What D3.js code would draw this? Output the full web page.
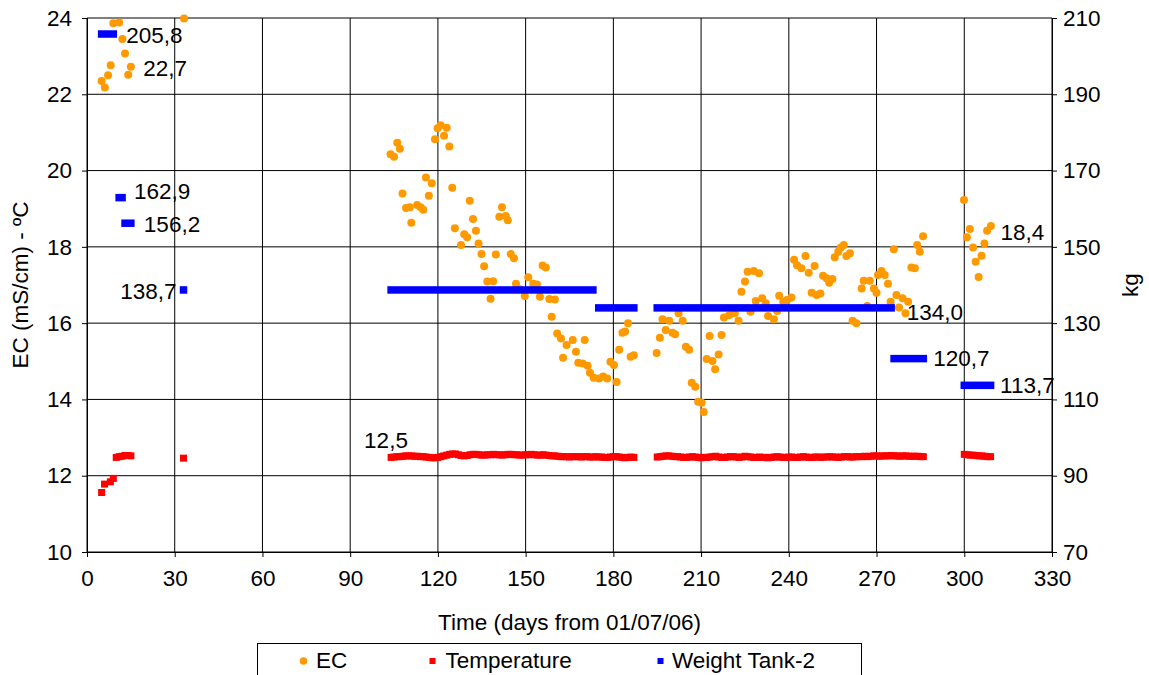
<!DOCTYPE html>
<html>
<head>
<meta charset="utf-8">
<script src="https://cdn.jsdelivr.net/npm/d3@7"></script>
<style>
  html, body { margin: 0; padding: 0; background: #fff; }
  svg { display: block; }
  text { font-family: "Liberation Sans", Arial, sans-serif; fill: #000; }
</style>
</head>
<body>
<svg id="chart" width="1149" height="675"></svg>
<script>
// ---------------- DATA ----------------
const xTicks = [0, 30, 60, 90, 120, 150, 180, 210, 240, 270, 300, 330];
const leftTicks = [10, 12, 14, 16, 18, 20, 22, 24];
const rightTicks = [70, 90, 110, 130, 150, 170, 190, 210];

const xTitle = "Time (days from 01/07/06)";
const leftTitle = "EC (mS/cm) - ºC";
const rightTitle = "kg";
const seriesNames = ["EC", "Temperature", "Weight Tank-2"];

// EC (mS/cm), days from 01/07/06
const ecDays = [5.0,6.1,7.2,8.1,9.0,11.0,12.1,13.0,14.1,15.0,33.2,
103.8,105.0,106.1,107.0,107.9,109.1,110.4,110.9,112.9,114.1,115.0,115.9,116.9,117.9,119.0,119.9,120.9,122.1,123.0,123.9,124.9,125.8,127.9,129.0,130.0,130.9,132.0,133.0,133.9,134.9,135.8,136.9,138.0,138.9,139.8,141.0,141.9,143.2,143.9,144.9,146.0,146.7,148.0,149.7,150.9,152.6,153.9,154.9,155.8,156.9,158.1,158.9,160.0,160.8,162.1,162.8,164.0,166.1,167.2,168.0,169.5,170.2,171.2,172.0,173.3,175.1,176.5,177.9,179.0,180.2,181.1,182.0,183.1,184.0,185.0,185.9,187.0,
194.8,195.9,196.8,197.9,199.1,200.2,201.1,202.3,203.7,204.8,205.9,206.8,208.0,209.0,210.2,210.9,211.9,212.9,213.9,214.8,216.0,217.0,217.8,219.6,221.5,222.8,223.8,225.0,225.9,226.9,228.0,228.7,229.8,230.9,232.1,232.9,234.9,236.0,236.7,238.1,239.4,240.9,241.8,242.8,244.3,245.7,246.8,247.8,248.8,249.5,250.8,251.7,252.9,253.8,254.9,255.7,256.9,257.8,258.8,259.7,260.9,261.8,263.1,264.9,265.6,266.8,267.7,269.1,270.0,270.5,271.7,272.8,273.9,274.8,275.9,276.8,277.7,278.9,279.9,280.8,281.9,283.1,283.9,284.8,285.9,
299.9,300.9,301.9,303.0,303.9,304.9,305.9,306.9,307.8,309.1];
const ecValues = [22.35,22.18,22.50,22.76,23.86,23.88,23.45,23.07,22.51,22.72,23.99,
20.43,20.36,20.73,20.57,19.40,19.02,19.04,18.63,19.10,19.04,18.97,19.82,19.34,19.67,20.82,21.11,21.19,20.91,21.12,20.63,19.55,18.49,18.05,18.33,18.25,19.21,18.73,18.42,18.09,17.81,17.49,17.09,16.64,17.10,17.80,18.79,19.04,18.81,18.70,17.81,17.70,17.03,16.89,16.71,17.20,17.03,17.01,16.69,17.51,17.46,16.63,16.17,16.62,15.73,15.60,15.09,15.43,15.56,15.25,14.96,14.94,15.56,14.88,14.70,14.57,14.55,14.60,14.55,14.99,14.90,14.46,15.30,15.75,15.78,16.00,15.12,15.16,
15.22,15.62,16.10,15.82,16.06,15.75,15.71,16.26,16.06,15.38,15.30,14.44,14.33,13.94,13.91,13.67,15.06,15.66,15.01,14.79,15.18,15.69,16.15,16.21,16.26,16.06,16.82,17.09,17.35,16.30,17.37,16.58,17.31,16.65,16.52,16.19,16.10,16.32,16.72,16.56,16.61,16.67,17.66,17.52,17.44,17.76,17.32,16.80,17.50,16.74,16.78,17.24,17.18,17.06,17.16,17.73,17.87,17.98,18.05,17.76,17.83,16.06,16.00,16.91,17.11,16.45,17.11,16.91,16.80,17.26,17.37,17.26,17.03,16.56,17.94,16.74,16.41,16.65,16.26,16.56,17.46,17.44,18.05,17.87,18.28,
19.23,18.25,18.47,17.98,17.61,17.21,17.77,18.09,18.42,18.55];

// Temperature (ºC): isolated early readings
const tempEarlyDays = [5, 6, 8, 9, 10, 11, 12, 13, 14, 15, 33];
const tempEarlyValues = [11.56, 11.78, 11.84, 11.93, 12.48, 12.50, 12.51, 12.53, 12.53, 12.52, 12.46];
// Temperature: daily readings in three runs (first day of each run + values)
const tempRunStarts = [104, 195, 300];
const tempRun1 = [12.48,12.49,12.50,12.50,12.51,12.52,12.52,
12.52,12.51,12.51,12.50,12.50,12.49,12.48,12.47,12.47,12.48,
12.50,12.52,12.54,12.56,12.57,12.57,12.55,12.53,12.52,12.53,
12.55,12.56,12.56,12.55,12.54,12.54,12.55,12.55,12.56,12.55,
12.55,12.54,12.55,12.56,12.56,12.55,12.55,12.54,12.54,12.55,
12.55,12.56,12.55,12.54,12.54,12.55,12.54,12.53,12.52,12.52,
12.51,12.50,12.50,12.50,12.49,12.50,12.50,12.50,12.49,12.50,
12.50,12.49,12.49,12.50,12.49,12.49,12.48,12.48,12.49,12.50,
12.50,12.49,12.48,12.47,12.48,12.49,12.48];
const tempRun2 = [12.49,12.50,12.51,12.52,12.52,12.51,12.50,12.50,12.49,12.48,
12.48,12.49,12.50,12.49,12.48,12.47,12.48,12.48,12.49,12.50,
12.51,12.49,12.48,12.48,12.49,12.50,12.50,12.49,12.48,12.49,
12.51,12.50,12.49,12.48,12.48,12.49,12.48,12.48,12.47,12.48,
12.49,12.50,12.49,12.48,12.48,12.49,12.49,12.48,12.48,12.49,
12.50,12.49,12.48,12.48,12.49,12.49,12.48,12.49,12.49,12.50,
12.49,12.49,12.48,12.49,12.50,12.50,12.49,12.49,12.50,12.50,
12.50,12.51,12.50,12.51,12.52,12.52,12.51,12.52,12.52,12.52,
12.53,12.52,12.52,12.51,12.52,12.52,12.51,12.51,12.51,12.51,
12.50,12.50];
const tempRun3 = [12.56,12.55,12.54,12.54,12.53,12.52,12.52,12.51,12.50,12.50];

// Weight Tank-2 (kg): daily readings held constant over these day ranges
const weightStartDays = [5, 11, 13, 33, 104, 175, 195, 276, 300];
const weightEndDays   = [9, 12, 15, 33, 173, 187, 275, 286, 309];
const weightKg        = [205.8, 162.9, 156.2, 138.7, 138.7, 134.0, 134.0, 120.7, 113.7];

// Data labels (text, series, day, value)
const labelTexts  = ["205,8", "162,9", "156,2", "138,7", "134,0", "120,7", "113,7", "22,7", "18,4", "12,5"];
const labelSeries = ["W", "W", "W", "W", "W", "W", "W", "EC", "EC", "T"];
const labelDays   = [9, 12, 15, 33, 275, 286, 309, 15, 307.8, 104];
const labelValues = [205.8, 162.9, 156.2, 138.7, 134.0, 120.7, 113.7, 22.72, 18.42, 12.48];

// ---------------- DRAW ----------------
const svg = d3.select("#chart");
const W = 1149, H = 675;
const plot = { left: 87, right: 1052, top: 18, bottom: 552 };
const FONT = 22.5;

svg.append("rect").attr("width", W).attr("height", H).attr("fill", "#fff");

const x = d3.scaleLinear().domain([0, 330]).range([plot.left, plot.right]);
const yL = d3.scaleLinear().domain([10, 24]).range([plot.bottom, plot.top]);
const yR = d3.scaleLinear().domain([70, 210]).range([plot.bottom, plot.top]);

// gridlines
const grid = svg.append("g");
grid.selectAll("line.h").data(leftTicks).join("line")
  .attr("x1", plot.left).attr("x2", plot.right)
  .attr("y1", d => yL(d)).attr("y2", d => yL(d))
  .attr("stroke", "#000").attr("stroke-width", 1);
grid.selectAll("line.v").data(xTicks).join("line")
  .attr("y1", plot.top).attr("y2", plot.bottom)
  .attr("x1", d => x(d)).attr("x2", d => x(d))
  .attr("stroke", "#000").attr("stroke-width", 1);

// axes
function styleAxis(g) {
  g.select(".domain").attr("stroke", "#000");
  g.selectAll(".tick line").attr("stroke", "#000");
  g.selectAll(".tick text").attr("font-size", FONT)
    .attr("font-family", '"Liberation Sans", Arial, sans-serif').attr("fill", "#000");
}
svg.append("g").attr("transform", `translate(0,${plot.bottom})`)
  .call(d3.axisBottom(x).tickValues(xTicks).tickSizeOuter(0).tickSize(5).tickPadding(13).tickFormat(d3.format("d")))
  .call(styleAxis);
svg.append("g").attr("transform", `translate(${plot.left},0)`)
  .call(d3.axisLeft(yL).tickValues(leftTicks).tickSizeOuter(0).tickSize(5).tickPadding(10).tickFormat(d3.format("d")))
  .call(styleAxis);
svg.append("g").attr("transform", `translate(${plot.right},0)`)
  .call(d3.axisRight(yR).tickValues(rightTicks).tickSizeOuter(0).tickSize(5).tickPadding(6).tickFormat(d3.format("d")))
  .call(styleAxis);

// axis titles
svg.append("text").attr("x", (plot.left + plot.right) / 2).attr("y", 630)
  .attr("text-anchor", "middle").attr("font-size", FONT).text(xTitle);
svg.append("text").attr("transform", `translate(28,${(plot.top + plot.bottom) / 2}) rotate(-90)`)
  .attr("text-anchor", "middle").attr("font-size", FONT).text(leftTitle);
svg.append("text").attr("transform", `translate(1138,${(plot.top + plot.bottom) / 2}) rotate(-90)`)
  .attr("text-anchor", "middle").attr("font-size", FONT).text(rightTitle);

const ORANGE = "#FF9900", RED = "#FF0000", BLUE = "#0000FF";

// EC points
const ec = ecDays.map((d, i) => ({ d, v: ecValues[i] }));
svg.append("g").selectAll("circle").data(ec).join("circle")
  .attr("cx", p => x(p.d)).attr("cy", p => yL(p.v)).attr("r", 4)
  .attr("fill", ORANGE);

// Temperature points
const temp = tempEarlyDays.map((d, i) => ({ d, v: tempEarlyValues[i] }));
[tempRun1, tempRun2, tempRun3].forEach((run, k) => {
  run.forEach((v, i) => temp.push({ d: tempRunStarts[k] + i, v }));
});
const TS = 7;
svg.append("g").selectAll("rect").data(temp).join("rect")
  .attr("x", p => x(p.d) - TS / 2).attr("y", p => yL(p.v) - TS / 2)
  .attr("width", TS).attr("height", TS).attr("fill", RED);

// Weight
const weight = weightKg.map((kg, i) => ({ s: weightStartDays[i], e: weightEndDays[i], kg }));
const WS = 7.5;
svg.append("g").selectAll("rect").data(weight).join("rect")
  .attr("x", p => x(p.s) - WS / 2).attr("y", p => yR(p.kg) - WS / 2)
  .attr("width", p => x(p.e) - x(p.s) + WS).attr("height", WS).attr("fill", BLUE);

// data labels (offsets in px relative to the labelled point)
const labelOffsets = [
  [13, 8.7, "start"], [12, 1.5, "start"], [13, 8.5, "start"], [-7, 9.3, "end"],
  [15.5, 11.7, "start"], [10, 7.4, "start"], [9.5, 7.7, "start"],
  [12.4, 9.3, "start"], [13.4, 9, "start"], [-27, -9.7, "start"]
];
labelTexts.forEach((t, i) => {
  const yy = labelSeries[i] === "W" ? yR(labelValues[i]) : yL(labelValues[i]);
  const [dx, dy, anchor] = labelOffsets[i];
  svg.append("text").attr("x", x(labelDays[i]) + dx).attr("y", yy + dy)
    .attr("text-anchor", anchor).attr("font-size", FONT).text(t);
});

// legend
const lg = svg.append("g");
lg.append("rect").attr("x", 257.5).attr("y", 643.5).attr("width", 604).attr("height", 50)
  .attr("fill", "#fff").attr("stroke", "#000").attr("stroke-width", 1);
const legY = 661;
lg.append("circle").attr("cx", 303.5).attr("cy", legY).attr("r", 3.8).attr("fill", ORANGE);
lg.append("text").attr("x", 316).attr("y", 668).attr("font-size", FONT).text(seriesNames[0]);
lg.append("rect").attr("x", 432.5 - 3).attr("y", legY - 3).attr("width", 6).attr("height", 6).attr("fill", RED);
lg.append("text").attr("x", 445.5).attr("y", 668).attr("font-size", FONT).text(seriesNames[1]);
lg.append("rect").attr("x", 660.5 - 3).attr("y", legY - 3).attr("width", 6).attr("height", 6).attr("fill", BLUE);
lg.append("text").attr("x", 672).attr("y", 668).attr("font-size", FONT).text(seriesNames[2]);
</script>
</body>
</html>
